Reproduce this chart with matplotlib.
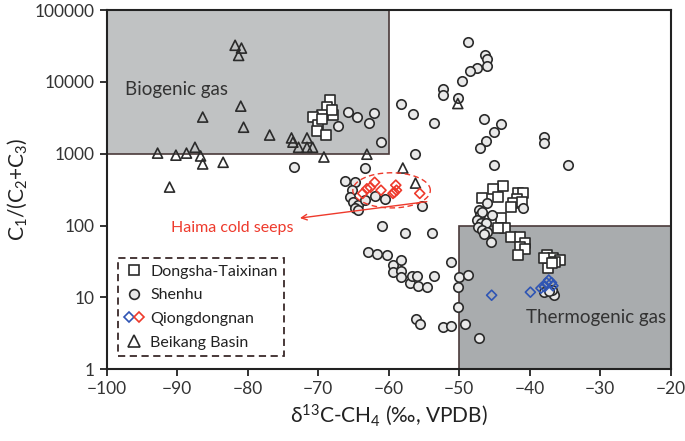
import numpy as np
import matplotlib
matplotlib.use("Agg")
import matplotlib.pyplot as plt
from matplotlib.patches import Rectangle
from matplotlib.legend_handler import HandlerTuple
from matplotlib.lines import Line2D

plt.rcParams['font.family'] = ['Lato', 'DejaVu Sans']
plt.rcParams['mathtext.fontset'] = 'custom'
plt.rcParams['mathtext.rm'] = 'Lato'
plt.rcParams['mathtext.it'] = 'Lato'

# Dongsha-Taixinan
dongsha_x = [-68.4, -68.8, -69.4, -70.8, -67.9, -70.1, -70.2, -68.9, -68.1, -69.5,
             -43.8, -45.2, -44.5, -46.7, -41.7, -41.0, -41.8, -42.4, -41.1, -42.6,
             -44.0, -43.5, -44.5, -42.6, -41.4, -40.7, -41.4, -40.7, -41.7, -37.6,
             -36.7, -35.7, -36.4, -37.4, -37.9, -36.9]
dongsha_y = [5580, 4470, 3460, 3240, 3460, 2510, 2050, 1820, 4070, 3000,
             355, 325, 251, 241, 281, 281, 234, 206, 214, 183,
             127, 91, 91, 69, 69, 57, 50, 47, 39, 39,
             35, 33, 31, 26, 35, 30]

# Shenhu
shenhu_x = [-48.8, -46.4, -46.0, -46.0, -47.5, -48.5, -49.6, -52.3, -52.3, -50.2,
            -58.2, -56.6, -53.6, -46.5, -44.0, -45.0, -46.2, -47.1, -38.0, -38.0,
            -56.3, -34.5, -65.8, -64.5, -62.8, -62.1, -67.2, -61.1, -73.5, -63.3,
            -66.2, -64.8, -65.2, -65.5, -65.1, -64.4, -64.8, -64.4, -62.0, -60.6,
            -63.4, -55.3, -60.9, -57.7, -53.8, -45.1,
            -63.0, -61.7, -60.3, -59.4, -58.3, -59.4, -58.2, -58.3, -57.0, -56.7,
            -56.0, -55.9, -54.5, -53.6, -51.2, -50.1, -50.2, -48.7, -50.2, -56.2,
            -55.5, -52.3, -51.2, -49.2, -47.2,
            -46.1, -47.2, -47.1, -46.7, -45.4, -47.5, -46.9, -46.2, -47.4, -46.7,
            -46.1, -46.5, -45.5, -40.9,
            -37.9, -36.7, -36.6, -36.9, -37.3]
shenhu_y = [35800, 23600, 20800, 16600, 15500, 14100, 10300, 7900, 6600, 5900,
            4900, 3550, 2690, 3040, 2590, 2000, 1500, 1200, 1700, 1400,
            990, 690, 3820, 3240, 2690, 3700, 2420, 1450, 650, 630,
            415, 400, 310, 250, 215, 192, 175, 163, 258, 233,
            225, 186, 98, 78, 78, 690,
            43, 40, 39, 28, 33, 22.5, 23, 19, 16, 20,
            20, 14.5, 14, 20, 31, 19, 14, 20.5, 7.3, 5.0,
            4.3, 3.85, 4.0, 4.3, 2.7,
            205, 162, 138, 153, 138, 120, 107, 107, 95, 87,
            81, 76, 59, 174,
            11.7, 11.4, 10.7, 12.6, 12.2]

# Qiongdongnan (Haima cold seeps, red) and thermogenic (blue)
qdn_red_x = [-63.7, -63.1, -62.6, -62.0, -61.1, -59.4, -58.9, -59.0, -59.2, -55.6]
qdn_red_y = [280, 325, 340, 400, 310, 280, 310, 365, 290, 280]
qdn_blue_x = [-45.4, -39.9, -38.4, -37.6, -37.3, -36.9, -36.7, -37.9]
qdn_blue_y = [10.7, 11.8, 13.4, 16, 17.4, 16, 14.5, 14]

# Beikang Basin
beikang_x = [-81.8, -80.9, -81.3, -81.0, -86.4, -80.6, -76.9, -73.8, -73.6, -71.6,
             -72.8, -71.6, -70.8, -69.2, -63.1, -92.8, -90.2, -88.7, -87.5, -86.7,
             -86.4, -83.5, -91.1, -58.0, -56.2, -50.2]
beikang_y = [32400, 29600, 23400, 4600, 3240, 2340, 1820, 1660, 1450, 1660,
             1230, 1230, 1230, 900, 985, 1020, 955, 1020, 1230, 930,
             720, 760, 343, 632, 390, 5000]

red = '#ee3a2c'
blue = '#2f55b4'
edge = '#2b2b2b'

fig, ax = plt.subplots(figsize=(6.85, 4.41), dpi=100)
fig.subplots_adjust(left=0.156, right=0.979, bottom=0.163, top=0.977)

ax.set_yscale('log')
ax.set_xlim(-100, -20)
ax.set_ylim(1, 100000)

# gas-type fields
ax.add_patch(Rectangle((-100, 1000), 40, 99000, facecolor='#c0c2c3',
                       edgecolor='#4a3a3a', lw=1.2, zorder=0))
ax.add_patch(Rectangle((-50, 1), 30, 99, facecolor='#a9acae',
                       edgecolor='#4a3a3a', lw=1.2, zorder=0))
ax.text(-97.4, 7800, 'Biogenic gas', fontsize=13.5, color='#333333', va='center')
ax.text(-20.6, 5.3, 'Thermogenic gas', fontsize=13.5, color='#333333',
        va='center', ha='right')

ms = 46
ax.scatter(dongsha_x, dongsha_y, marker='s', s=ms, facecolor='white',
           edgecolor=edge, lw=1.2, zorder=3)
ax.scatter(shenhu_x, shenhu_y, marker='o', s=ms, facecolor='#e9e9e9',
           edgecolor=edge, lw=1.2, zorder=4)
ax.scatter(beikang_x, beikang_y, marker='^', s=52, facecolor='none',
           edgecolor=edge, lw=1.2, zorder=5)
ax.scatter(qdn_red_x, qdn_red_y, marker='D', s=26, facecolor='none',
           edgecolor=red, lw=1.2, zorder=6)
ax.scatter(qdn_blue_x, qdn_blue_y, marker='D', s=26, facecolor='none',
           edgecolor=blue, lw=1.2, zorder=6)

# Haima cold seeps ellipse and arrow
t = np.linspace(0, 2 * np.pi, 200)
ax.plot(-59.6 + 5.5 * np.cos(t), 10 ** (2.49 + 0.245 * np.sin(t)),
        ls=(0, (4, 2.5)), color=red, lw=1.0, zorder=6)
ax.annotate('', xy=(-72.6, 127), xytext=(-54.6, 215),
            arrowprops=dict(arrowstyle='->', color=red, lw=1.0,
                            shrinkA=0, shrinkB=0), zorder=6)
ax.text(-82.2, 92, 'Haima cold seeps', color=red, fontsize=11.5,
        ha='center', va='center')

# axes styling
ax.set_xticks(np.arange(-100, -19, 10))
ax.set_yticks([1, 10, 100, 1000, 10000, 100000])
ax.set_yticklabels(['1', '10', '100', '1000', '10000', '100000'])
ax.minorticks_off()
ax.tick_params(direction='out', length=5, width=1.3, labelsize=12.5,
               colors='#222222', labelcolor='#333333')
for s in ax.spines.values():
    s.set_linewidth(1.5)
    s.set_color('#222222')
ax.set_xlabel('δ$^{13}$C-CH$_4$ (‰, VPDB)', fontsize=15, color='#222222')
ax.set_ylabel('C$_1$/(C$_2$+C$_3$)', fontsize=15, color='#222222', labelpad=4)

# legend
h_sq = Line2D([], [], marker='s', ls='', mfc='white', mec=edge, ms=7, mew=1.2)
h_ci = Line2D([], [], marker='o', ls='', mfc='#e9e9e9', mec=edge, ms=7, mew=1.2)
h_bl = Line2D([], [], marker='D', ls='', mfc='none', mec=blue, ms=5.5, mew=1.2)
h_rd = Line2D([], [], marker='D', ls='', mfc='none', mec=red, ms=5.5, mew=1.2)
h_tr = Line2D([], [], marker='^', ls='', mfc='none', mec=edge, ms=8, mew=1.2)
leg = ax.legend([h_sq, h_ci, (h_bl, h_rd), h_tr],
                ['Dongsha-Taixinan', 'Shenhu', 'Qiongdongnan', 'Beikang Basin'],
                handler_map={tuple: HandlerTuple(ndivide=None, pad=0.1)},
                loc='lower left', bbox_to_anchor=(0.02, 0.036), borderaxespad=0,
                fontsize=11.5, fancybox=False, handlelength=1.2,
                handletextpad=0.4, labelspacing=0.6, borderpad=0.4,
                framealpha=1)
leg.get_frame().set_linestyle((0, (4, 2.5)))
leg.get_frame().set_edgecolor('#3a2a2a')
leg.get_frame().set_linewidth(1.3)
for txt in leg.get_texts():
    txt.set_color('#222222')

fig.savefig('out.png', dpi=100)
